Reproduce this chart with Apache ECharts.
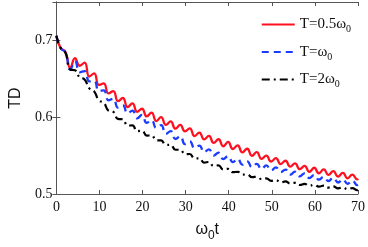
<!DOCTYPE html>
<html><head><meta charset="utf-8">
<script src="https://cdn.jsdelivr.net/npm/echarts@6/dist/echarts.min.js"></script>
<style>html,body{margin:0;padding:0;background:#fff}#c{width:368px;height:247px}</style>
</head><body><div id="c"></div>
<script>
const times = [0, 0.99, 2.10, 3.21, 4.32, 5.43, 6.54, 7.65, 8.76, 9.87, 10.98, 12.09, 13.20, 14.31, 15.42, 16.53, 17.64, 18.75, 19.86, 20.97, 22.08, 23.19, 24.30, 25.41, 26.52, 27.63, 28.74, 29.85, 30.96, 32.07, 33.18, 34.29, 35.40, 36.51, 37.62, 38.73, 39.84, 40.95, 42.06, 43.17, 44.28, 45.39, 46.50, 47.61, 48.72, 49.83, 50.94, 52.05, 53.16, 54.27, 55.38, 56.49, 57.60, 58.71, 59.82, 60.93, 62.04, 63.15, 64.26, 65.37, 66.48, 67.59, 68.70, 69.81, 70];
const redTD = [0.706, 0.690, 0.685, 0.664, 0.677, 0.667, 0.671, 0.653, 0.657, 0.642, 0.644, 0.631, 0.634, 0.621, 0.625, 0.613, 0.618, 0.607, 0.611, 0.601, 0.606, 0.595, 0.600, 0.590, 0.5945, 0.585, 0.590, 0.5815, 0.5855, 0.5754, 0.580, 0.571, 0.5757, 0.5665, 0.5713, 0.5622, 0.5678, 0.5586, 0.5634, 0.5542, 0.5589, 0.5497, 0.5545, 0.5458, 0.550, 0.5423, 0.5466, 0.539, 0.5433, 0.5356, 0.5399, 0.5323, 0.5366, 0.5289, 0.5342, 0.527, 0.532, 0.5249, 0.5297, 0.5226, 0.5275, 0.5204, 0.5253, 0.519, 0.520];
const blueTD = [0.706, 0.690, 0.684, 0.662, 0.673, 0.6585, 0.660, 0.6466, 0.6473, 0.6342, 0.635, 0.6221, 0.6241, 0.6124, 0.6155, 0.6049, 0.6086, 0.5986, 0.6029, 0.5926, 0.5963, 0.5859, 0.5896, 0.5783, 0.5819, 0.5716, 0.5753, 0.565, 0.5686, 0.5598, 0.563, 0.5544, 0.5582, 0.550, 0.5538, 0.5455, 0.5493, 0.5414, 0.5459, 0.5382, 0.5426, 0.5349, 0.5393, 0.5324, 0.5373, 0.5307, 0.5346, 0.5285, 0.5318, 0.5252, 0.5291, 0.523, 0.5269, 0.5208, 0.5247, 0.5186, 0.5225, 0.5169, 0.5213, 0.515, 0.5191, 0.5133, 0.5174, 0.5116, 0.512];
const blackTD = [0.706, 0.690, 0.684, 0.662, 0.661, 0.6516, 0.6492, 0.6375, 0.6337, 0.6219, 0.6191, 0.6086, 0.607, 0.5978, 0.5973, 0.5891, 0.5893, 0.5818, 0.5824, 0.5761, 0.5763, 0.5699, 0.5697, 0.564, 0.5641, 0.5576, 0.5577, 0.5519, 0.5521, 0.5463, 0.5465, 0.5409, 0.5417, 0.5365, 0.5373, 0.532, 0.5328, 0.5284, 0.5289, 0.5252, 0.5256, 0.5219, 0.5225, 0.5194, 0.5203, 0.5172, 0.5181, 0.515, 0.5164, 0.5138, 0.5146, 0.5117, 0.5132, 0.5106, 0.5121, 0.5095, 0.511, 0.5084, 0.5099, 0.5073, 0.5087, 0.5062, 0.5076, 0.5051, 0.5055];
const seriesNames = ['T=0.5ω0', 'T=ω0', 'T=2ω0'];
const xTicks = [0, 10, 20, 30, 40, 50, 60, 70];
const yTicks = [0.5, 0.6, 0.7];

const pair = (ys) => times.map((t, i) => [t, ys[i]]);
const axisCol = '#555';
const serif = '"Liberation Serif", "DejaVu Serif", serif';
const sans = '"Liberation Sans", Arial, sans-serif';
const chart = echarts.init(document.getElementById('c'), null, {renderer: 'canvas'});
const baseAxis = {
  axisLine: {show: true, lineStyle: {color: axisCol, width: 1}},
  axisTick: {show: true, inside: true, length: 4, lineStyle: {color: axisCol}},
  splitLine: {show: false}
};
chart.setOption({
  animation: false,
  grid: {left: 49, right: 10, top: 2, bottom: 47},
  legend: {
    orient: 'vertical', right: 12, top: 12,
    itemWidth: 33, itemHeight: 12, itemGap: 10,
    data: seriesNames,
    itemStyle: {color: 'transparent', borderWidth: 0, opacity: 0},
    formatter: (n) => '{a|' + n.slice(0, -1) + '}{s|0}',
    textStyle: {rich: {
      a: {fontFamily: serif, fontSize: 15, color: '#111'},
      s: {fontFamily: serif, fontSize: 10, color: '#111', padding: [10, 0, 0, 0]}
    }}
  },
  xAxis: [
    Object.assign({}, baseAxis, {
      type: 'value', min: 0, max: 70, interval: 10,
      axisLabel: {fontFamily: serif, fontSize: 14, color: '#111', margin: 6,
        formatter: (v) => xTicks.includes(v) ? String(v) : ''},
      name: '{a|ω}{s|0}{a|t}', nameLocation: 'middle', nameGap: 24,
      nameTextStyle: {rich: {
        a: {fontFamily: sans, fontSize: 16, color: '#111'},
        s: {fontFamily: sans, fontSize: 12, color: '#111', padding: [12, 0, 0, 0]}
      }}
    }),
    Object.assign({}, baseAxis, {
      type: 'value', min: 0, max: 70, interval: 10, position: 'top',
      axisLabel: {show: false}
    })
  ],
  yAxis: [
    Object.assign({}, baseAxis, {
      type: 'value', min: 0.5, max: 0.75, interval: 0.1,
      axisLabel: {fontFamily: serif, fontSize: 14, color: '#111', margin: 4,
        formatter: (v) => yTicks.some(t => Math.abs(t - v) < 1e-6) ? v.toFixed(1) : ''},
      name: 'TD', nameLocation: 'middle', nameGap: 31, nameRotate: 90,
      nameTextStyle: {fontFamily: sans, fontSize: 16, color: '#111'}
    }),
    Object.assign({}, baseAxis, {
      type: 'value', min: 0.5, max: 0.75, interval: 0.1, position: 'right',
      axisLabel: {show: false}
    })
  ],
  series: [
    {name: seriesNames[0], type: 'line', data: pair(redTD), smooth: 0.5, symbol: 'none',
      lineStyle: {color: '#ff1020', width: 2.3, type: 'solid'}, itemStyle: {color: '#ff1020'}},
    {name: seriesNames[1], type: 'line', data: pair(blueTD), smooth: 0.5, symbol: 'none',
      lineStyle: {color: '#1a3cff', width: 2.3, type: [7, 5]}, itemStyle: {color: '#1a3cff'}},
    {name: seriesNames[2], type: 'line', data: pair(blackTD), smooth: 0.5, symbol: 'none',
      lineStyle: {color: '#000', width: 2.2, type: [8, 4, 2, 4]}, itemStyle: {color: '#000'}}
  ]
});
</script></body></html>
